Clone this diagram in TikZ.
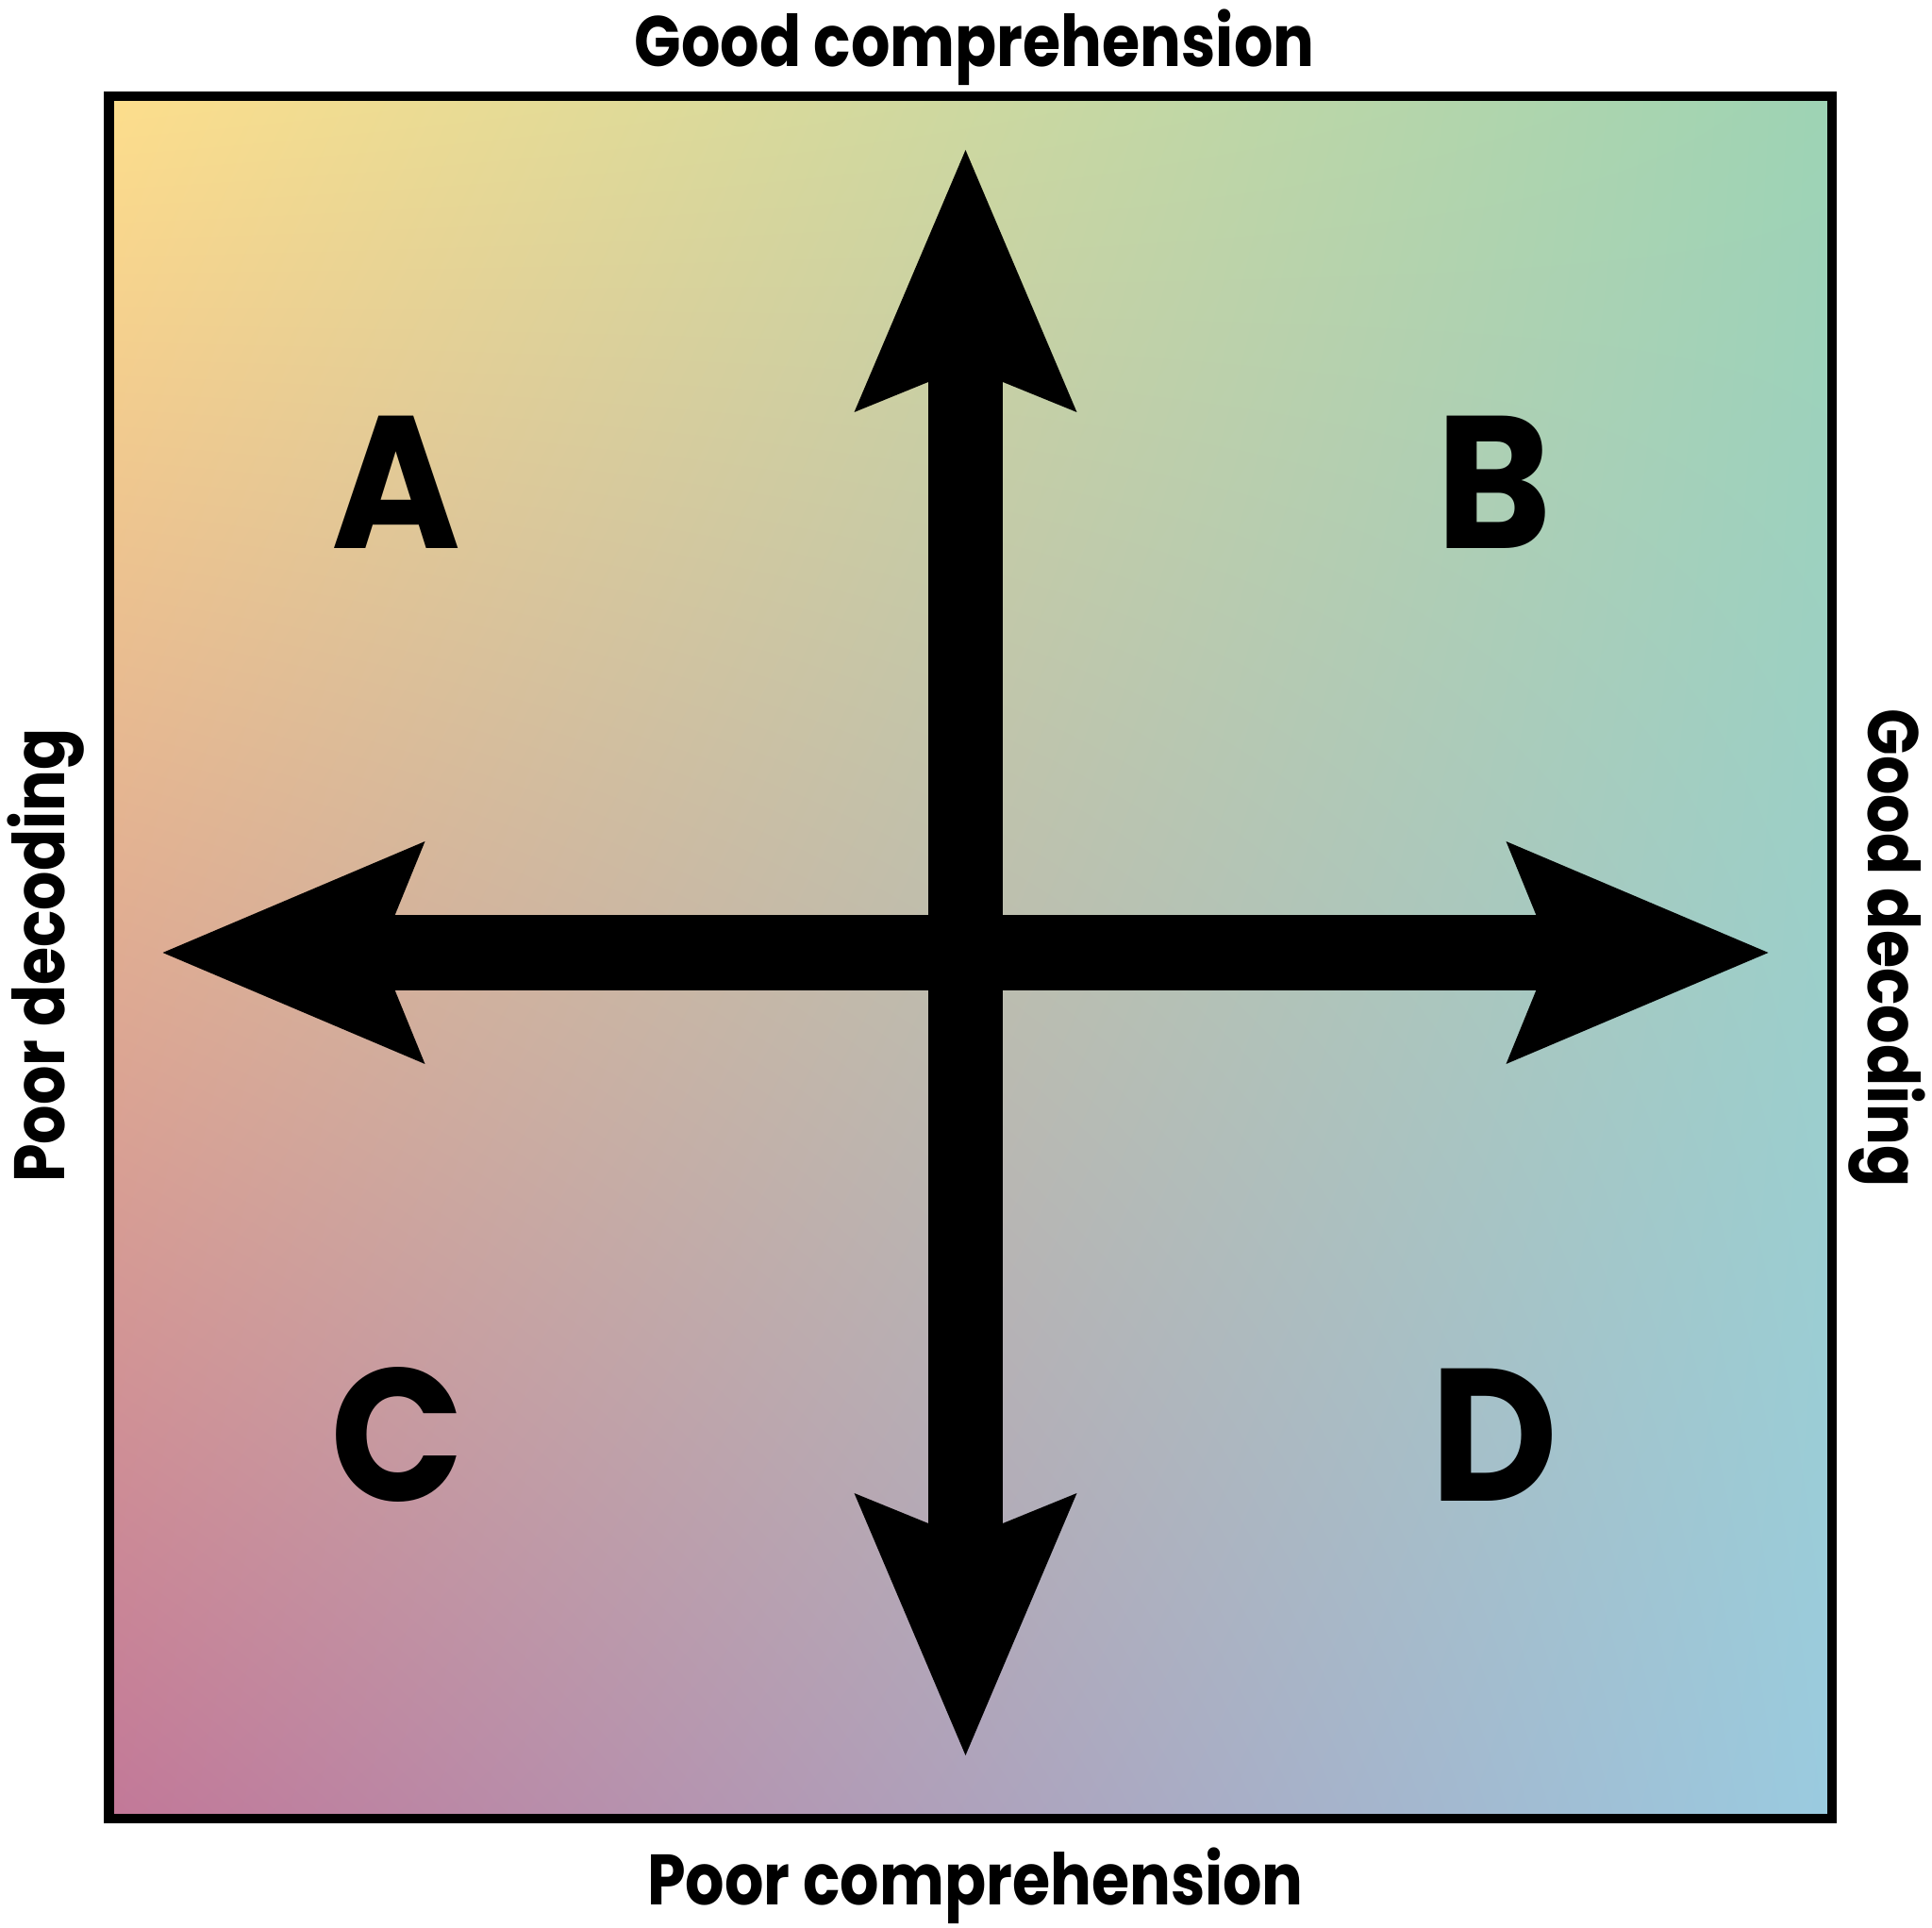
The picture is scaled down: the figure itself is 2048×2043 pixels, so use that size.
\documentclass[tikz,border=0pt]{standalone}
\usepackage{fontspec}
\usetikzlibrary{shadings}
\setmainfont{Poppins}[UprightFont=* Bold]
\newfontfamily\labelfont{Poppins}[UprightFont=* Bold,FakeStretch=0.86]
\newfontfamily\quadfont{Poppins}[UprightFont=* Bold,FakeStretch=0.93]
\begin{document}
\begin{tikzpicture}[x=0.3pt,y=0.3pt,
  frame/.style={line width=3.15pt,draw=black},
  shaft/.style={line width=23.7pt,draw=black,shorten <=72pt,shorten >=72pt},
  quad/.style={inner sep=0pt,anchor=base,font=\quadfont\fontsize{60}{72}\selectfont},
  axislabel/.style={inner sep=0pt,anchor=base,font=\labelfont\fontsize{22.7}{27}\selectfont},
  head/.pic={\fill[black] (0,0) -- (-278,118) -- (-246,39.5) -- (-246,-39.5) -- (-278,-118) -- cycle;}
]
\useasboundingbox (0,0) rectangle (2048,2043);
\definecolor{cTL}{RGB}{253,222,140}
\definecolor{cTR}{RGB}{157,211,180}
\definecolor{cBL}{RGB}{194,120,152}
\definecolor{cBR}{RGB}{154,203,224}
% background square
\shade[upper left=cTL,upper right=cTR,lower left=cBL,lower right=cBR] (115.5,115) rectangle (1942,1941);
\draw[frame] (115.5,115) rectangle (1942,1941);
% axes
\coordinate (O) at (1023.5,1033);
\coordinate (N) at (1023.5,1884);
\coordinate (S) at (1023.5,182);
\coordinate (E) at (1874.5,1033);
\coordinate (W) at (172.5,1033);
\draw[shaft] (W) -- (E);
\draw[shaft] (S) -- (N);
\pic at (E) {head};
\pic[rotate=90] at (N) {head};
\pic[rotate=180] at (W) {head};
\pic[rotate=270] at (S) {head};
% quadrant letters
\node[quad] (A) at (420,1461) {A};
\node[quad] (B) at (1584,1461) {B};
\node[quad] (C) at (421,452) {C};
\node[quad] (D) at (1584,452) {D};
% axis labels
\node[axislabel] (top) at (1033,1972) {Good comprehension};
\node[axislabel] (bottom) at (1034,24) {Poor comprehension};
\node[axislabel,rotate=90] (left) at (68,1030) {Poor decoding};
\node[axislabel,rotate=-90] (right) at (1980,1038) {Good decoding};
\end{tikzpicture}
\end{document}
